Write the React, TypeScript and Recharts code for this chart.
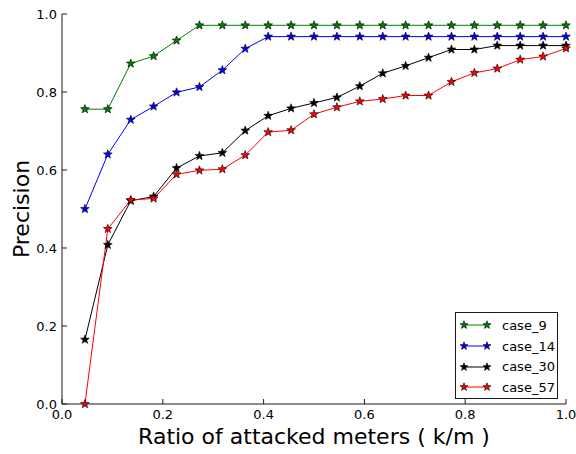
import React from 'react';
import { LineChart, Line, XAxis, YAxis, Legend } from 'recharts';

// attacked-meter ratio k/m for k = 1..22
const ratios = [
  0.0455, 0.0909, 0.1364, 0.1818, 0.2273, 0.2727, 0.3182, 0.3636, 0.4091, 0.4545, 0.5,
  0.5455, 0.5909, 0.6364, 0.6818, 0.7273, 0.7727, 0.8182, 0.8636, 0.9091, 0.9545, 1.0,
];

const case9 = [
  0.756, 0.756, 0.873, 0.892, 0.932, 0.971, 0.971, 0.971, 0.971, 0.971, 0.971,
  0.971, 0.971, 0.971, 0.971, 0.971, 0.971, 0.971, 0.971, 0.971, 0.971, 0.971,
];
const case14 = [
  0.5, 0.64, 0.729, 0.763, 0.799, 0.813, 0.856, 0.911, 0.942, 0.942, 0.942,
  0.942, 0.942, 0.942, 0.942, 0.942, 0.942, 0.942, 0.942, 0.942, 0.942, 0.942,
];
const case30 = [
  0.165, 0.408, 0.521, 0.532, 0.605, 0.636, 0.644, 0.701, 0.739, 0.758, 0.772,
  0.786, 0.815, 0.848, 0.867, 0.888, 0.909, 0.909, 0.919, 0.919, 0.919, 0.919,
];
const case57 = [
  0.0, 0.449, 0.523, 0.527, 0.589, 0.599, 0.602, 0.638, 0.697, 0.702, 0.743,
  0.761, 0.776, 0.782, 0.791, 0.791, 0.826, 0.849, 0.86, 0.883, 0.891, 0.912,
];

const ticks = [0, 0.2, 0.4, 0.6, 0.8, 1.0];

const series = [
  { name: 'case_9', color: '#008000', values: case9 },
  { name: 'case_14', color: '#0000ff', values: case14 },
  { name: 'case_30', color: '#000000', values: case30 },
  { name: 'case_57', color: '#ff0000', values: case57 },
];

const data = ratios.map((r, i) => {
  const row: Record<string, number> = { ratio: r };
  series.forEach(s => { row[s.name] = s.values[i]; });
  return row;
});

const FONT = '"DejaVu Sans", sans-serif';
const FRAME = '#1a1a1a';
const TICK_LEN = 5;

const starPath = (cx: number, cy: number, R: number, r: number) => {
  let d = '';
  for (let i = 0; i < 10; i++) {
    const rad = i % 2 === 0 ? R : r;
    const a = -Math.PI / 2 + (i * Math.PI) / 5;
    d += (i === 0 ? 'M' : 'L') + (cx + rad * Math.cos(a)).toFixed(2) + ',' + (cy + rad * Math.sin(a)).toFixed(2);
  }
  return d + 'Z';
};

const Star = (color: string) => (props: any) => {
  const { cx, cy, index } = props;
  if (cx == null || cy == null) return <g key={index} />;
  return <path key={index} d={starPath(cx, cy, 4.6, 1.9)} fill={color} stroke="#000" strokeWidth={0.6} />;
};

const fmt = (v: number) => v.toFixed(1);

// inward tick marks, labels outside (matplotlib classic look)
const BottomTick = (p: any) => (
  <g>
    <line x1={p.x} x2={p.x} y1={p.y} y2={p.y - TICK_LEN} stroke={FRAME} />
    <text x={p.x} y={p.y + 5} dy="0.8em" textAnchor="middle" fontSize={13} fontFamily={FONT} fill="#000">
      {fmt(p.payload.value)}
    </text>
  </g>
);
const LeftTick = (p: any) => (
  <g>
    <line x1={p.x} x2={p.x + TICK_LEN} y1={p.y} y2={p.y} stroke={FRAME} />
    <text x={p.x - 5} y={p.y} dy="0.36em" textAnchor="end" fontSize={13} fontFamily={FONT} fill="#000">
      {fmt(p.payload.value)}
    </text>
  </g>
);
const TopTick = (p: any) => <line x1={p.x} x2={p.x} y1={p.y} y2={p.y + TICK_LEN} stroke={FRAME} />;
const RightTick = (p: any) => <line x1={p.x} x2={p.x - TICK_LEN} y1={p.y} y2={p.y} stroke={FRAME} />;

// legend keeps plotting order
const LegendBox = () => (
  <div style={{ width: 101, height: 83, border: `1px solid ${FRAME}`, background: '#fff', padding: '2px 0 0 0', boxSizing: 'content-box' }}>
    {series.map(s => (
      <div key={s.name} style={{ display: 'flex', alignItems: 'center', height: 20.7 }}>
        <svg width={44} height={12} style={{ marginLeft: 2 }}>
          <line x1={6} x2={29} y1={6} y2={6} stroke={s.color} strokeWidth={1} />
          <path d={starPath(6, 6, 4.2, 1.7)} fill={s.color} stroke="#000" strokeWidth={0.6} />
          <path d={starPath(29, 6, 4.2, 1.7)} fill={s.color} stroke="#000" strokeWidth={0.6} />
        </svg>
        <span style={{ fontFamily: FONT, fontSize: 13, color: '#000' }}>{s.name}</span>
      </div>
    ))}
  </div>
);

const App: React.FC = () => (
  <div style={{ position: 'absolute', left: 0, top: 0, width: 576, height: 454, background: '#fff' }}>
    <LineChart width={576} height={454} data={data} margin={{ top: 14, right: 10, left: 0, bottom: 0 }}>
      <XAxis
        xAxisId="bottom"
        dataKey="ratio"
        type="number"
        domain={[0, 1]}
        ticks={ticks}
        height={50}
        tickSize={0}
        tickMargin={0}
        tickLine={false}
        axisLine={{ stroke: FRAME }}
        tick={BottomTick}
        interval={0}
        label={{
          content: (lp: any) => {
            const vb = lp.viewBox;
            return (
              <text x={vb.x + vb.width / 2} y={vb.y + 40} textAnchor="middle" fontSize={22} fontFamily={FONT} fill="#000">
                Ratio of attacked meters ( k/m )
              </text>
            );
          },
        }}
      />
      <XAxis
        xAxisId="top"
        orientation="top"
        dataKey="ratio"
        type="number"
        domain={[0, 1]}
        ticks={ticks}
        height={0}
        tickSize={0}
        tickMargin={0}
        tickLine={false}
        axisLine={{ stroke: FRAME }}
        tick={TopTick}
        interval={0}
      />
      <YAxis
        yAxisId="left"
        type="number"
        domain={[0, 1]}
        ticks={ticks}
        width={62}
        tickSize={0}
        tickMargin={0}
        tickLine={false}
        axisLine={{ stroke: FRAME }}
        tick={LeftTick}
        interval={0}
        label={{
          content: (lp: any) => {
            const vb = lp.viewBox;
            const cx = vb.x + 21;
            const cy = vb.y + vb.height / 2;
            return (
              <text x={cx} y={cy} transform={`rotate(-90 ${cx} ${cy})`} textAnchor="middle" dy="0.35em" fontSize={22} fontFamily={FONT} fill="#000">
                Precision
              </text>
            );
          },
        }}
      />
      <YAxis
        yAxisId="right"
        orientation="right"
        type="number"
        domain={[0, 1]}
        ticks={ticks}
        width={0}
        tickSize={0}
        tickMargin={0}
        tickLine={false}
        axisLine={{ stroke: FRAME }}
        tick={RightTick}
        interval={0}
      />
      {series.map(s => (
        <Line
          key={s.name}
          xAxisId="bottom"
          yAxisId="left"
          dataKey={s.name}
          name={s.name}
          stroke={s.color}
          strokeWidth={1}
          dot={Star(s.color)}
          activeDot={false}
          isAnimationActive={false}
          type="linear"
        />
      ))}
      <Legend
        layout="vertical"
        align="center"
        verticalAlign="middle"
        content={LegendBox}
        wrapperStyle={{ position: 'absolute', left: 455, top: 312, width: 'auto' }}
      />
    </LineChart>
  </div>
);

export default App;
